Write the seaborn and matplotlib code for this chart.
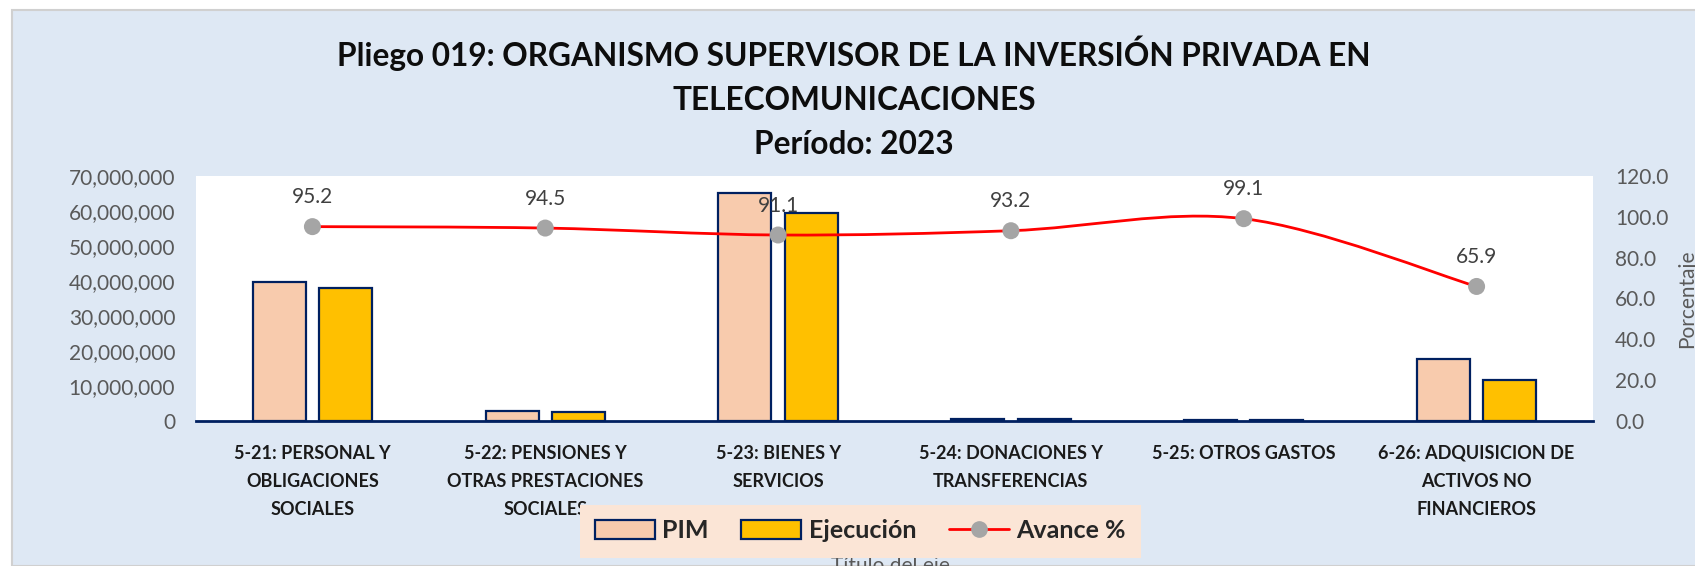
import numpy as np
import pandas as pd
import seaborn as sns
import matplotlib.pyplot as plt
from matplotlib.patches import Rectangle, PathPatch, Patch
from matplotlib.lines import Line2D
from matplotlib.path import Path

categorias = ["5-21: PERSONAL Y\nOBLIGACIONES\nSOCIALES",
              "5-22: PENSIONES Y\nOTRAS PRESTACIONES\nSOCIALES",
              "5-23: BIENES Y\nSERVICIOS",
              "5-24: DONACIONES Y\nTRANSFERENCIAS",
              "5-25: OTROS GASTOS",
              "6-26: ADQUISICION DE\nACTIVOS NO\nFINANCIEROS"]
pim = [39800000, 2750000, 65100000, 520000, 420000, 17800000]
ejecucion = [37900000, 2600000, 59300000, 485000, 416000, 11730000]
avance = [95.2, 94.5, 91.1, 93.2, 99.1, 65.9]

titulo = ("Pliego 019: ORGANISMO SUPERVISOR DE LA INVERSIÓN PRIVADA EN\n"
          "TELECOMUNICACIONES\nPeríodo: 2023")

df = pd.DataFrame({
    "cat": categorias * 2,
    "serie": ["PIM"] * 6 + ["Ejecución"] * 6,
    "monto": pim + ejecucion,
})

sns.set_style("white")
plt.rcParams['font.family'] = ['Lato', 'DejaVu Sans']

azul_fondo = "#DEE8F4"
navy = "#002060"
gris = "#595959"

fig = plt.figure(figsize=(16.95, 5.66), dpi=100, facecolor="white")
fig.patches.append(Rectangle((12 / 1695, 0), 1, 1 - 10 / 566, transform=fig.transFigure,
                             facecolor=azul_fondo, edgecolor="#D0D0D0", lw=1.5, zorder=-5))
ax = fig.add_axes([196 / 1695, 1 - 421 / 566, (1593 - 196) / 1695, (421 - 176) / 566])
ax.set_facecolor("white")

sns.barplot(data=df, x="cat", y="monto", hue="serie", ax=ax,
            palette={"PIM": "#F8CBAD", "Ejecución": "#FFC000"}, saturation=1,
            edgecolor=navy, linewidth=1.6, width=0.57, gap=0.2, legend=False)

ax.set_ylim(0, 70000000)
ax.set_xlim(-0.5, 5.5)
ax.set_yticks(np.arange(0, 70000001, 10000000))
ax.yaxis.set_major_formatter(plt.FuncFormatter(lambda v, p: f"{int(v):,}"))
ax.tick_params(axis="y", length=0, pad=15, labelsize=15, labelcolor=gris)
ax.tick_params(axis="x", length=0, pad=17)
ax.set_xticks(range(len(categorias)))
ax.set_xticklabels(categorias, fontsize=13, fontweight="bold", color="#1A1A1A", linespacing=1.8)
ax.set_xlabel("")
ax.set_ylabel("")
for s in ["left", "right", "top"]:
    ax.spines[s].set_visible(False)
ax.spines["bottom"].set_color(navy)
ax.spines["bottom"].set_linewidth(2)

# avance % en eje secundario, linea suavizada
ax2 = ax.twinx()
ax2.set_ylim(0, 120)
ax2.set_yticks(np.arange(0, 121, 20))
ax2.yaxis.set_major_formatter(plt.FuncFormatter(lambda v, p: f"{v:.1f}"))
ax2.tick_params(axis="y", length=0, pad=16, labelsize=15, labelcolor=gris)
for s in ax2.spines.values():
    s.set_visible(False)
ax2.set_ylabel("Porcentaje", fontsize=15, color=gris)
ax2.yaxis.set_label_coords(1.06, 0.5)

xs = np.arange(len(avance), dtype=float)
ys = np.array(avance)
pts = np.column_stack([xs, ys])
ext = np.vstack([pts[0], pts, pts[-1]])
verts = [tuple(pts[0])]
codes = [Path.MOVETO]
for i in range(len(pts) - 1):
    p0, p1, p2, p3 = ext[i], ext[i + 1], ext[i + 2], ext[i + 3]
    c1 = p1 + (p2 - p0) / 6
    c2 = p2 - (p3 - p1) / 6
    verts += [tuple(c1), tuple(c2), tuple(p2)]
    codes += [Path.CURVE4] * 3
ax2.add_patch(PathPatch(Path(verts, codes), facecolor="none", edgecolor="#FF0000", lw=2, zorder=3))
sns.scatterplot(x=xs, y=ys, ax=ax2, color="#A5A5A5", s=150, edgecolor="none", zorder=4)
for x, y in zip(xs, ys):
    ax2.annotate(f"{y:.1f}", (x, y), xytext=(0, 14), textcoords="offset points",
                 ha="center", va="bottom", fontsize=15, color="#404040")

fig.text(854 / 1695, 1 - 97 / 566, titulo, ha="center", va="center", fontsize=22.8,
         fontweight="bold", color="#0D0D0D", linespacing=1.62)

fig.text(890 / 1695, 1 - 566 / 566, "Título del eje", ha="center", va="center",
         fontsize=15, color=gris)

handles = [Patch(facecolor="#F8CBAD", edgecolor=navy, lw=1.6),
           Patch(facecolor="#FFC000", edgecolor=navy, lw=1.6),
           Line2D([0], [0], color="#FF0000", lw=2, marker="o", markersize=11,
                  markerfacecolor="#A5A5A5", markeredgecolor="#A5A5A5")]
leg = fig.legend(handles, ["PIM", "Ejecución", "Avance %"], loc="center",
                 bbox_to_anchor=(860 / 1695, 1 - 531 / 566), ncol=3, frameon=True,
                 fancybox=False, facecolor="#FBE5D6", edgecolor="none", framealpha=1,
                 prop={"weight": "bold", "size": 18}, handlelength=2.4, handleheight=0.8,
                 columnspacing=1.3, handletextpad=0.3, borderpad=0.6)
leg.set_zorder(10)

fig.savefig("out.png", dpi=100, facecolor=fig.get_facecolor())
